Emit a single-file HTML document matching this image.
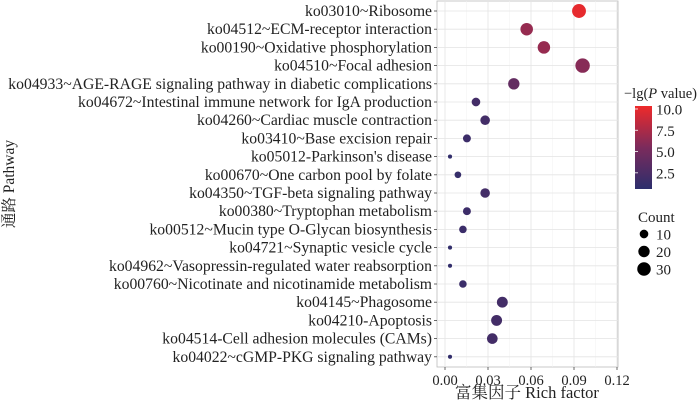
<!DOCTYPE html>
<html><head><meta charset="utf-8"><style>
body{margin:0;background:#fff}
svg text{font-family:"Liberation Serif","Noto Serif CJK SC",serif;fill:#222}
</style></head><body>
<svg id="c" width="700" height="401">
<defs><linearGradient id="g" x1="0" y1="1" x2="0" y2="0">
<stop offset="0" stop-color="#2c2e6c"/><stop offset="0.5" stop-color="#7b2b5c"/><stop offset="1" stop-color="#ee2a2a"/></linearGradient></defs>
</svg>
<script>
const pathways=["ko03010~Ribosome","ko04512~ECM-receptor interaction","ko00190~Oxidative phosphorylation","ko04510~Focal adhesion","ko04933~AGE-RAGE signaling pathway in diabetic complications","ko04672~Intestinal immune network for IgA production","ko04260~Cardiac muscle contraction","ko03410~Base excision repair","ko05012-Parkinson's disease","ko00670~One carbon pool by folate","ko04350~TGF-beta signaling pathway","ko00380~Tryptophan metabolism","ko00512~Mucin type O-Glycan biosynthesis","ko04721~Synaptic vesicle cycle","ko04962~Vasopressin-regulated water reabsorption","ko00760~Nicotinate and nicotinamide metabolism","ko04145~Phagosome","ko04210-Apoptosis","ko04514-Cell adhesion molecules (CAMs)","ko04022~cGMP-PKG signaling pathway"];
const richFactor=[0.0935,0.057,0.069,0.096,0.048,0.0216,0.028,0.0153,0.0035,0.009,0.028,0.0153,0.0125,0.0035,0.0035,0.0125,0.040,0.036,0.033,0.0035];
const counts=[32,25,25,35,20,10,13,8,1,5,13,8,7,1,1,7,18,18,17,1];
const negLogP=[10,6.6,6.6,6,4,2,2,1.6,1,1.2,2,1.6,1.5,1,1,1.5,2,2,2,1];
const xTicks=[0,0.03,0.06,0.09,0.12];
const xTickLabels=["0.00","0.03","0.06","0.09","0.12"];
const cbTicks=[2.5,5,7.5,10];
const cbTickLabels=["2.5","5.0","7.5","10.0"];
const sizeLegend=[10,20,30];

const NS="http://www.w3.org/2000/svg",svg=document.getElementById('c');
function el(t,a,txt){const e=document.createElementNS(NS,t);for(const k in a)e.setAttribute(k,a[k]);if(txt!=null)e.textContent=txt;svg.appendChild(e);return e;}
const PL=437,PR=618,PT=1,PB=367;
const xs=v=>445+v/0.12*172;
const ys=i=>11+i*18.2;
const rs=c=>1+Math.sqrt(c)*1.05;
function col(v){const t=Math.max(0,Math.min(1,(v-0.6)/(10.35-0.6)));
const a=[44,46,108],m=[123,43,92],b=[238,42,42];let p,q,u;
if(t<0.5){p=a;q=m;u=t/0.5}else{p=m;q=b;u=(t-0.5)/0.5}
return `rgb(${p.map((x,i)=>Math.round(x+(q[i]-x)*u)).join(',')})`;}

let r=el('rect',{x:PL,y:PT,width:PR-PL,height:PB-PT,fill:'#fff',stroke:'#bbb','stroke-width':0.8});

for(let k=0;k<xTicks.length*2-1;k++){const v=k*0.015;const x=xs(v);if(x>PR)break;
const g=el('line',{x1:x,x2:x,y1:PT,y2:PB,stroke:k%2?'#f2f2f2':'#e4e4e4','stroke-width':k%2?0.5:0.8});
}
pathways.forEach((p,i)=>{const y=ys(i);
const g=el('line',{x1:PL,x2:PR,y1:y,y2:y,stroke:'#e4e4e4','stroke-width':0.8});

const tk=el('line',{x1:PL-3,x2:PL,y1:y,y2:y,stroke:'#444','stroke-width':0.8});

const t=el('text',{x:PL-5,y:y+5,'text-anchor':'end','font-size':15.7},p);
});
pathways.forEach((p,i)=>{const c=el('circle',{cx:xs(richFactor[i]),cy:ys(i),r:rs(counts[i]),fill:col(negLogP[i])});
});
xTicks.forEach((v,i)=>{const x=xs(v);
const tk=el('line',{x1:x,x2:x,y1:PB,y2:PB+3,stroke:'#444','stroke-width':0.8});

const t=el('text',{x:x,y:PB+18,'text-anchor':'middle','font-size':14.5},xTickLabels[i]);
});
let t=el('text',{x:527,y:398,'text-anchor':'middle','font-size':16.5},'富集因子  Rich factor');

t=el('text',{x:0,y:0,transform:'translate(14,184) rotate(-90)','text-anchor':'middle','font-size':15.5},'通路 Pathway');

t=el('text',{x:624,y:98,'font-size':14.5},'−lg(');

const ti=document.createElementNS(NS,'tspan');ti.setAttribute('font-style','italic');ti.textContent='P';t.appendChild(ti);t.appendChild(document.createTextNode(' value)'));
const cbTop=106,cbBot=189,cbv=v=>cbBot-(v-0.6)/(10.35-0.6)*(cbBot-cbTop);
r=el('rect',{x:635,y:cbTop,width:17,height:cbBot-cbTop,fill:'url(#g)'});

cbTicks.forEach((v,i)=>{const y=cbv(v);
const l=el('line',{x1:635,x2:638,y1:y,y2:y,stroke:'#fff','stroke-width':0.8});

const tt=el('text',{x:656,y:y+5.5,'font-size':15},cbTickLabels[i]);
});
t=el('text',{x:638,y:222,'font-size':15},'Count');

sizeLegend.forEach((c,i)=>{const y=234+i*17.5;
const cc=el('circle',{cx:644,cy:y,r:rs(c),fill:'#000'});

const tt=el('text',{x:656,y:y+5.5,'font-size':15},String(c));
});
</script>
</body></html>
